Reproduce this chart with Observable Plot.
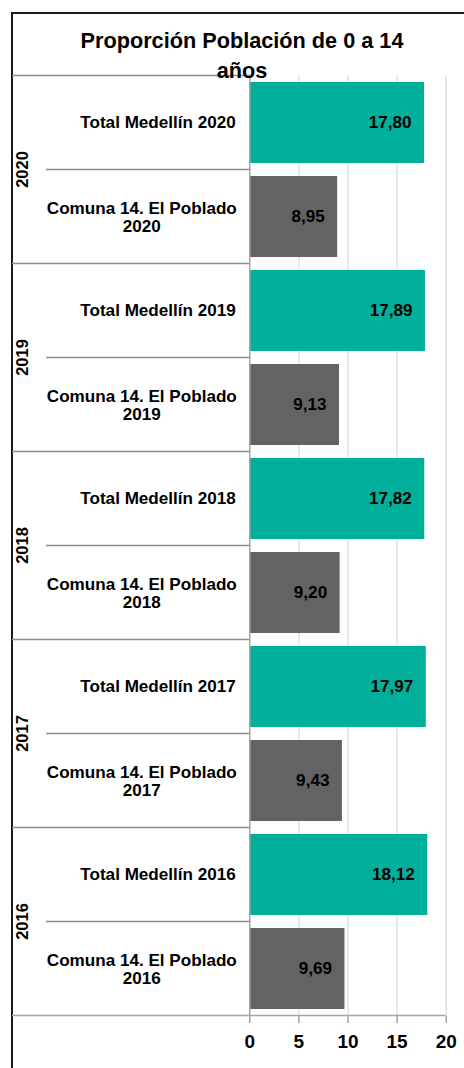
<!DOCTYPE html>
<html>
<head>
<meta charset="utf-8">
<script src="https://cdn.jsdelivr.net/npm/d3@7"></script>
<script src="https://cdn.jsdelivr.net/npm/@observablehq/plot@0.6"></script>
<style>
  html, body { margin: 0; padding: 0; background: #fff; }
  #wrap { position: relative; width: 464px; height: 1068px; overflow: hidden; font-family: "Liberation Sans", Arial, sans-serif; }
  #border { position: absolute; left: 11px; top: 12px; width: 600px; height: 1200px; border-left: 2px solid #1a1a1a; border-top: 2px solid #1a1a1a; }
  #title { position: absolute; left: 0; top: 25.5px; width: 484px; text-align: center; font-size: 21.7px; line-height: 30px; font-weight: bold; color: #000; z-index: 2; }
  #chart { position: absolute; left: 0; top: 0; z-index: 1; }
</style>
</head>
<body>
<div id="wrap">
  <div id="border"></div>
  <div id="chart"></div>
  <div id="title">Proporción Población de 0 a 14<br>años</div>
</div>
<script>
// ---- data ----
const years = [2020, 2019, 2018, 2017, 2016];
const medellin = [17.80, 17.89, 17.82, 17.97, 18.12];
const poblado = [8.95, 9.13, 9.20, 9.43, 9.69];
const seriesNames = ["Total Medellín", "Comuna 14. El Poblado"];
const seriesColors = ["#00b09b", "#636363"];
const xTicks = [0, 5, 10, 15, 20];

const rows = years.flatMap((yr, i) => [
  { key: `Total Medellín ${yr}`, series: seriesNames[0], value: medellin[i], year: yr },
  { key: `Comuna 14. El Poblado\n${yr}`, series: seriesNames[1], value: poblado[i], year: yr }
]);
const fmt = v => v.toFixed(2).replace(".", ",");

const W = 464, H = 1068;
const mL = 249.3, mR = 18.3, mT = 75, mB = 52;
const font = "Liberation Sans, Arial, sans-serif";
const fs = 17.1;

const plot = Plot.plot({
  width: W, height: H,
  marginLeft: mL, marginRight: mR, marginTop: mT, marginBottom: mB,
  style: { fontFamily: font, background: "transparent", overflow: "visible" },
  x: { domain: [0, 20], axis: null, label: null },
  y: { domain: rows.map(d => d.key), paddingInner: 0.14, paddingOuter: 0.07, axis: null, label: null },
  color: { domain: seriesNames, range: seriesColors },
  marks: [
    Plot.gridX(xTicks.slice(1), { stroke: "#dbe5e8", strokeOpacity: 1, strokeWidth: 1.5 }),
    Plot.barX(rows, { x: "value", y: "key", fill: "series" }),
    Plot.ruleX([0], { stroke: "#a6a6a6", strokeWidth: 1.5 }),
    Plot.text(rows, { x: "value", y: "key", text: d => fmt(d.value), textAnchor: "end", dx: -13,
      fontSize: fs, fontWeight: "bold", fill: "#000" }),
    Plot.text(rows.filter(d => d.series === seriesNames[0]), { y: "key", text: "key", frameAnchor: "left",
      textAnchor: "end", dx: -14, fontSize: fs, fontWeight: "bold", fill: "#000" }),
    Plot.text(rows.filter(d => d.series === seriesNames[1]), { y: "key", text: "key", frameAnchor: "left",
      textAnchor: "middle", dx: 141.3 - mL, lineHeight: 1.08, fontSize: fs, fontWeight: "bold", fill: "#000" }),
    Plot.axisX({ ticks: xTicks, tickSize: 7, tickPadding: 11, stroke: "#a6a6a6", strokeWidth: 1.5, label: null,
      fill: "#000", fontSize: 19, fontWeight: "bold", tickFormat: d => String(d) })
  ]
});
document.getElementById("chart").appendChild(plot);

// separators and year labels positioned through the plot's own scales
const ys = plot.scale("y");
const xs = plot.scale("x");
const step = ys.step, bw = ys.bandwidth, off = (step - bw) / 2;
const svg = d3.select(plot);
const g = svg.append("g").attr("stroke", "#8c8c8c").attr("stroke-width", 1.5);
const leftX = 12, subX = 46;
years.forEach((yr, i) => {
  const top = ys.apply(rows[2 * i].key) - off;
  const mid = ys.apply(rows[2 * i + 1].key) - off;
  g.append("line").attr("x1", leftX).attr("x2", xs.apply(0)).attr("y1", top).attr("y2", top);
  g.append("line").attr("x1", subX).attr("x2", xs.apply(0)).attr("y1", mid).attr("y2", mid);
  svg.append("text")
    .attr("transform", `translate(22,${mid}) rotate(-90)`)
    .attr("text-anchor", "middle").attr("dy", "0.36em")
    .attr("font-family", font).attr("font-size", 16.5).attr("font-weight", "bold").attr("fill", "#000")
    .text(String(yr));
});
const bottom = ys.apply(rows[rows.length - 1].key) - off + step;
g.append("line").attr("x1", leftX).attr("x2", xs.apply(20)).attr("y1", bottom).attr("y2", bottom).attr("stroke", "#a6a6a6");
</script>
</body>
</html>
